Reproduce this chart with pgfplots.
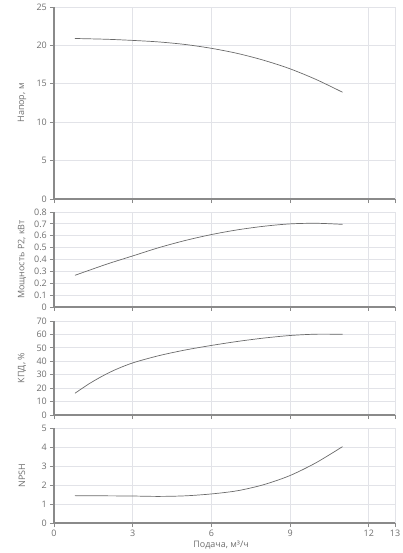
\documentclass[border=0pt]{standalone}
\usepackage{fontspec}
\setmainfont{Open Sans}
\usepackage{pgfplots}
\pgfplotsset{compat=1.18}
\definecolor{txt}{HTML}{6F6F6F}
\definecolor{gridc}{HTML}{E2E3E8}
\definecolor{axc}{HTML}{8A8A8A}
\definecolor{crv}{HTML}{6A6A6A}
\begin{document}
\fontsize{9}{11}\selectfont
\begin{tikzpicture}
\useasboundingbox (-54bp,7bp) rectangle (349bp,-546bp);
\pgfplotsset{
  every axis/.style={
    scale only axis, width=341bp,
    xmin=0, xmax=13, xtick={0,3,6,9,12,13},
    axis x line*=bottom, axis y line*=left,
    axis line style={axc, line width=1.2pt},
    x axis line style={-}, y axis line style={-},
    grid=major, major grid style={gridc, line width=0.8pt},
    tick align=outside, major tick length=4bp,
    tick style={axc, line width=0.8pt},
    ticklabel style={font=\fontsize{9}{11}\selectfont, text=txt},
    /pgf/number format/assume math mode=true,
    label style={font=\fontsize{9}{11}\selectfont, text=txt},
    clip=false,
  },
  every axis y label/.style={at={(axis description cs:-0.094,0.5)}, rotate=90, anchor=center},
  crvstyle/.style={crv, line width=0.7pt, smooth, no marks},
}
% Panel 1: head
\begin{axis}[at={(0,0)}, anchor=north west, height=192bp,
  ymin=0, ymax=25, ytick={0,5,...,25}, xticklabels={}, ylabel={Напор, м}]
\addplot[crvstyle] coordinates {(0.8,20.9) (2,20.8) (3,20.65) (4,20.45) (5,20.12) (6,19.62) (7,18.95) (8,18.06) (9,16.95) (10,15.55) (11,13.9)};
\end{axis}
% Panel 2: power
\begin{axis}[at={(0,-205bp)}, anchor=north west, height=95bp,
  ymin=0, ymax=0.8, ytick={0,0.1,...,0.8}, yticklabels={0,0.1,0.2,0.3,0.4,0.5,0.6,0.7,0.8}, xticklabels={}, ylabel={Мощность P2, кВт}]
\addplot[crvstyle] coordinates {(0.8,0.267) (2,0.36) (3,0.43) (4,0.5) (5,0.56) (6,0.61) (7,0.65) (8,0.68) (9,0.7) (10,0.705) (11,0.696)};
\end{axis}
% Panel 3: efficiency
\begin{axis}[at={(0,-314bp)}, anchor=north west, height=94bp,
  ymin=0, ymax=70, ytick={0,10,...,70}, xticklabels={}, ylabel={КПД, \%}]
\addplot[crvstyle] coordinates {(0.8,16.2) (1.3,22.8) (1.8,28.5) (2.3,33.4) (3,38.8) (4,44.2) (5,48.4) (6,51.8) (7,54.8) (8,57.3) (9,59.2) (10,60.2) (11,60.1)};
\end{axis}
% Panel 4: NPSH
\begin{axis}[at={(0,-421bp)}, anchor=north west, height=95bp,
  ymin=0, ymax=5, ytick={0,1,...,5}, xticklabels={0,3,6,9,12,13}, ylabel={NPSH},
  xlabel={Подача, м³/ч}, xlabel style={at={(axis description cs:0.49,0)}, anchor=north, yshift=-15bp}]
\addplot[crvstyle] coordinates {(0.8,1.44) (2,1.43) (3,1.42) (4,1.4) (5,1.43) (6,1.53) (7,1.7) (8,2.02) (9,2.5) (10,3.18) (11,4.02)};
\end{axis}
\end{tikzpicture}
\end{document}
